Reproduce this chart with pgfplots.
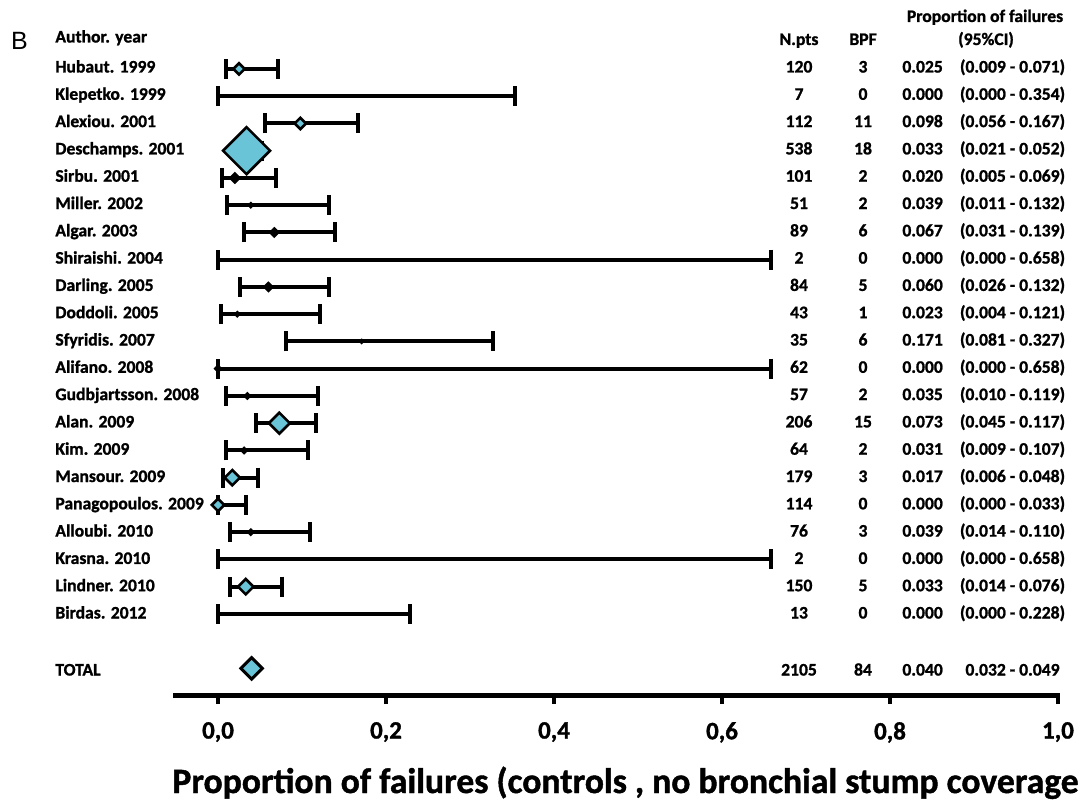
\documentclass[border=0pt]{standalone}
\usepackage{fontspec}
\setmainfont{Carlito}[BoldFeatures={FakeBold=1.2}]
\newfontfamily\arialf{Liberation Sans}
\usepackage{pgfplots}
\pgfplotsset{compat=1.18}
\usepackage{pgfplotstable}
\definecolor{fillc}{RGB}{104,196,214}

% confidence intervals: row (negative index), estimate, lower, upper
\pgfplotstableread{
y est lo hi
-1 0.025 0.009 0.071
-2 0.000 0.000 0.354
-3 0.098 0.056 0.167
-4 0.033 0.021 0.052
-5 0.020 0.005 0.069
-6 0.039 0.011 0.132
-7 0.067 0.031 0.139
-8 0.000 0.000 0.658
-9 0.060 0.026 0.132
-10 0.023 0.004 0.121
-11 0.171 0.081 0.327
-12 0.000 0.000 0.658
-13 0.035 0.010 0.119
-14 0.073 0.045 0.117
-15 0.031 0.009 0.107
-16 0.017 0.006 0.048
-17 0.000 0.000 0.033
-18 0.039 0.014 0.110
-19 0.000 0.000 0.658
-20 0.033 0.014 0.076
-21 0.000 0.000 0.228
}\citable

% point estimates with marker size (weight): filled cyan
\pgfplotstableread{
y est ms
-1 0.025 2.0
-3 0.098 2.0
-4 0.034 8.3
-14 0.073 3.7
-16 0.017 2.7
-17 0.000 2.2
-20 0.033 2.7
}\mktable

% small weights: dark points
\pgfplotstableread{
y est ms
-5 0.020 1.6
-6 0.039 0.7
-7 0.067 1.4
-9 0.060 1.4
-10 0.023 0.7
-11 0.171 0.5
-12 0.000 1.0
-13 0.035 0.9
-15 0.031 0.9
-18 0.039 0.9
}\mkblack

\newcommand\R[6]{%
  \node[anchor=base west] at (55,#1) {#2};%
  \node[anchor=base] at (799,#1) {#3};%
  \node[anchor=base] at (863,#1) {#4};%
  \node[anchor=base west] at (902,#1) {#5};%
  \node[anchor=base] at (1012.5,#1) {#6};}

\begin{document}
\begin{tikzpicture}
\path[use as bounding box] (0pt,0pt) rectangle (539.5pt,-401pt);
\begin{axis}[
  at={(86.5pt,-347.85pt)}, anchor=south west,
  scale only axis, width=443.5pt, height=327pt,
  xmin=-0.0536, xmax=1.0024, ymin=-24, ymax=0,
  axis x line=bottom, axis y line=none,
  x axis line style={-, line width=2.5pt},
  xtick={0,0.2,0.4,0.6,0.8,1},
  xticklabels={{0,0},{0,2},{0,4},{0,6},{0,8},{1,0}},
  tick align=outside,
  major tick length=4.2pt,
  x tick style={black, line width=2pt},
  xticklabel style={font=\bfseries\fontsize{12.5}{13}\selectfont, yshift=-5.5pt},
  clip=false,
]
\addplot[draw=none, mark=none, forget plot,
  error bars/.cd, x dir=both, x explicit, error mark=|,
  error bar style={line width=2pt, black, solid},
  error mark options={line width=2pt, mark size=5pt, black}]
 table[x=est, y=y,
   x error minus expr={max(\thisrow{est}-\thisrow{lo},0.0005)},
   x error plus expr={max(\thisrow{hi}-\thisrow{est},0.0005)}] {\citable};
\addplot[scatter, only marks, mark=square*,
  visualization depends on={\thisrow{ms}\as\msz},
  scatter/use mapped color={draw=black, fill=black},
  scatter/@pre marker code/.append style={/tikz/mark size=\msz pt, /tikz/rotate=45},
  mark options={line width=1.2pt}]
 table[x=est, y=y, meta=ms] {\mkblack};
\addplot[scatter, only marks, mark=square*,
  visualization depends on={\thisrow{ms}\as\msz},
  scatter/use mapped color={draw=black, fill=fillc},
  scatter/@pre marker code/.append style={/tikz/mark size=\msz pt, /tikz/rotate=45},
  mark options={line width=1.3pt}]
 table[x=est, y=y, meta=ms] {\mktable};
\addplot[only marks, mark=square*, mark size=3.8pt, draw=black, fill=fillc,
  mark options={rotate=45, line width=1.5pt}]
 coordinates {(0.040,-23)};
\end{axis}
\begin{scope}[x=0.5pt, y=-0.5pt, every node/.style={inner sep=0pt, font=\bfseries\fontsize{8.8}{10}\selectfont}]
\node[font=\arialf\fontsize{12.5}{14}\selectfont] at (19.5,41) {B};
\node[anchor=base west] at (55,42.5) {Author. year};
\node[anchor=base] at (799,45) {N.pts};
\node[anchor=base] at (863,45) {BPF};
\node[anchor=base] at (985,22) {Proportion of failures};
\node[anchor=base] at (986,45) {(95\%CI)};
\R{72.5}{Hubaut. 1999}{120}{3}{0.025}{(0.009 - 0.071)}
\R{99.8}{Klepetko. 1999}{7}{0}{0.000}{(0.000 - 0.354)}
\R{127.1}{Alexiou. 2001}{112}{11}{0.098}{(0.056 - 0.167)}
\R{154.4}{Deschamps. 2001}{538}{18}{0.033}{(0.021 - 0.052)}
\R{181.7}{Sirbu. 2001}{101}{2}{0.020}{(0.005 - 0.069)}
\R{209.0}{Miller. 2002}{51}{2}{0.039}{(0.011 - 0.132)}
\R{236.3}{Algar. 2003}{89}{6}{0.067}{(0.031 - 0.139)}
\R{263.6}{Shiraishi. 2004}{2}{0}{0.000}{(0.000 - 0.658)}
\R{290.9}{Darling. 2005}{84}{5}{0.060}{(0.026 - 0.132)}
\R{318.2}{Doddoli. 2005}{43}{1}{0.023}{(0.004 - 0.121)}
\R{345.5}{Sfyridis. 2007}{35}{6}{0.171}{(0.081 - 0.327)}
\R{372.8}{Alifano. 2008}{62}{0}{0.000}{(0.000 - 0.658)}
\R{400.1}{Gudbjartsson. 2008}{57}{2}{0.035}{(0.010 - 0.119)}
\R{427.4}{Alan. 2009}{206}{15}{0.073}{(0.045 - 0.117)}
\R{454.7}{Kim. 2009}{64}{2}{0.031}{(0.009 - 0.107)}
\R{482.0}{Mansour. 2009}{179}{3}{0.017}{(0.006 - 0.048)}
\R{509.3}{Panagopoulos. 2009}{114}{0}{0.000}{(0.000 - 0.033)}
\R{536.6}{Alloubi. 2010}{76}{3}{0.039}{(0.014 - 0.110)}
\R{563.9}{Krasna. 2010}{2}{0}{0.000}{(0.000 - 0.658)}
\R{591.2}{Lindner. 2010}{150}{5}{0.033}{(0.014 - 0.076)}
\R{618.5}{Birdas. 2012}{13}{0}{0.000}{(0.000 - 0.228)}
\R{675.5}{TOTAL}{2105}{84}{0.040}{0.032 - 0.049}
\node[anchor=base west, font=\bfseries\fontsize{17.8}{20}\selectfont] at (172,793) {Proportion of failures (controls , no bronchial stump coverage};
\end{scope}
\end{tikzpicture}
\end{document}
